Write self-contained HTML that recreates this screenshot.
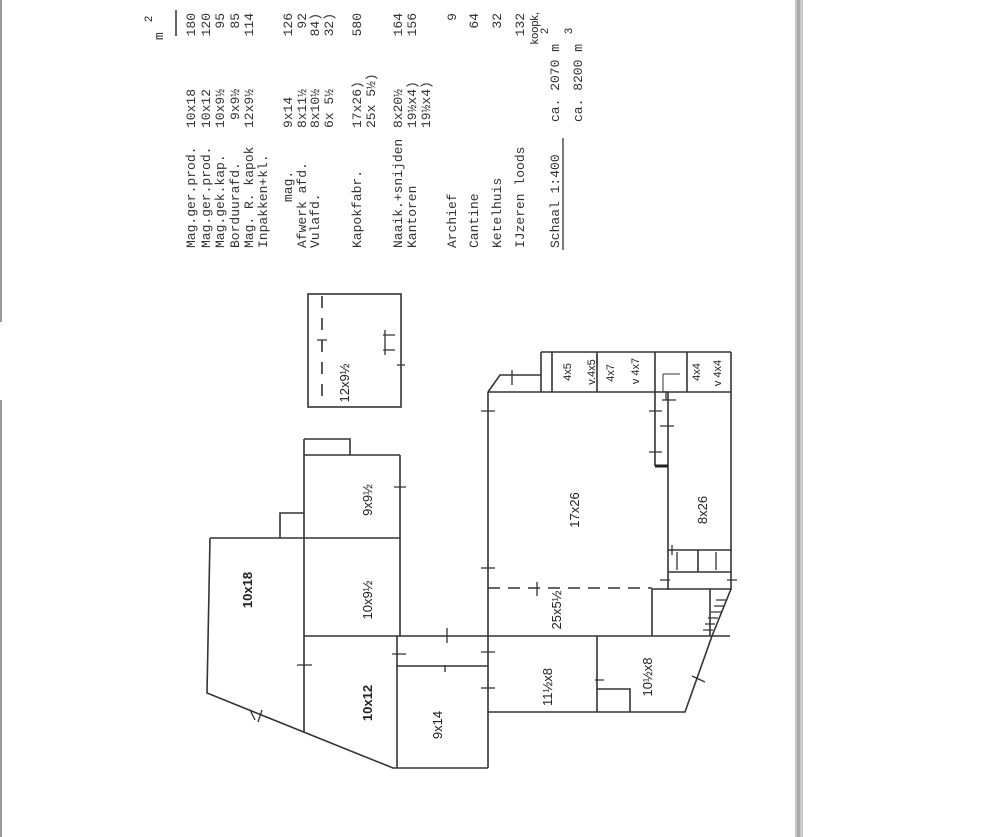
<!DOCTYPE html>
<html><head><meta charset="utf-8"><style>
html,body{margin:0;padding:0;background:#fff;}
svg{display:block;}
.t{font-family:"Liberation Mono",monospace;font-size:13px;fill:#333;}
.p{font-family:"Liberation Sans",sans-serif;font-size:13px;fill:#222;}
.s{font-family:"Liberation Sans",sans-serif;font-size:11px;fill:#222;}
</style></head><body>
<svg width="997" height="837" viewBox="0 0 997 837" xmlns="http://www.w3.org/2000/svg">
<rect width="997" height="837" fill="#fff"/>
<rect x="795" y="0" width="8" height="837" fill="#c8c8c8"/>
<rect x="797" y="0" width="3" height="837" fill="#aaa"/>
<line x1="1" y1="0" x2="1" y2="322" stroke="#999" stroke-width="2"/>
<line x1="1" y1="400" x2="1" y2="837" stroke="#999" stroke-width="2"/>

<text class="t" transform="translate(163,40) rotate(-90)">m</text>
<text class="s" transform="translate(152,22) rotate(-90)">2</text>
<line x1="176" y1="10" x2="176" y2="36" stroke="#333" stroke-width="1.5"/>

<g class="t">
<text transform="translate(195,248) rotate(-90)">Mag.ger.prod.</text>
<text transform="translate(195,128) rotate(-90)">10x18</text>
<text transform="translate(195,13) rotate(-90)" text-anchor="end">180</text>

<text transform="translate(210,248) rotate(-90)">Mag.ger.prod.</text>
<text transform="translate(210,128) rotate(-90)">10x12</text>
<text transform="translate(210,13) rotate(-90)" text-anchor="end">120</text>

<text transform="translate(224,248) rotate(-90)">Mag.gek.kap.</text>
<text transform="translate(224,128) rotate(-90)">10x9½</text>
<text transform="translate(224,13) rotate(-90)" text-anchor="end">95</text>

<text transform="translate(239,248) rotate(-90)">Borduurafd.</text>
<text transform="translate(239,120) rotate(-90)">9x9½</text>
<text transform="translate(239,13) rotate(-90)" text-anchor="end">85</text>

<text transform="translate(253,248) rotate(-90)">Mag. R. kapok</text>
<text transform="translate(253,128) rotate(-90)">12x9½</text>
<text transform="translate(253,13) rotate(-90)" text-anchor="end">114</text>

<text transform="translate(267,248) rotate(-90)">Inpakken+kl.</text>

<text transform="translate(292,202) rotate(-90)">mag.</text>
<text transform="translate(292,128) rotate(-90)">9x14</text>
<text transform="translate(292,13) rotate(-90)" text-anchor="end">126</text>

<text transform="translate(306,248) rotate(-90)">Afwerk afd.</text>
<text transform="translate(306,128) rotate(-90)">8x11½</text>
<text transform="translate(306,13) rotate(-90)" text-anchor="end">92</text>

<text transform="translate(319,248) rotate(-90)">Vulafd.</text>
<text transform="translate(319,128) rotate(-90)">8x10½</text>
<text transform="translate(319,13) rotate(-90)" text-anchor="end">84)</text>

<text transform="translate(333,128) rotate(-90)">6x 5½</text>
<text transform="translate(333,13) rotate(-90)" text-anchor="end">32)</text>

<text transform="translate(361,248) rotate(-90)">Kapokfabr.</text>
<text transform="translate(361,128) rotate(-90)">17x26)</text>
<text transform="translate(361,13) rotate(-90)" text-anchor="end">580</text>
<text transform="translate(375,128) rotate(-90)">25x 5½)</text>

<text transform="translate(402,248) rotate(-90)">Naaik.+snijden</text>
<text transform="translate(402,128) rotate(-90)">8x20½</text>
<text transform="translate(402,13) rotate(-90)" text-anchor="end">164</text>

<text transform="translate(416,248) rotate(-90)">Kantoren</text>
<text transform="translate(416,128) rotate(-90)">19½x4)</text>
<text transform="translate(416,13) rotate(-90)" text-anchor="end">156</text>
<text transform="translate(430,128) rotate(-90)">19½x4)</text>

<text transform="translate(456,248) rotate(-90)">Archief</text>
<text transform="translate(456,13) rotate(-90)" text-anchor="end">9</text>

<text transform="translate(478,248) rotate(-90)">Cantine</text>
<text transform="translate(478,13) rotate(-90)" text-anchor="end">64</text>

<text transform="translate(501,248) rotate(-90)">Ketelhuis</text>
<text transform="translate(501,13) rotate(-90)" text-anchor="end">32</text>

<text transform="translate(524,248) rotate(-90)">IJzeren loods</text>
<text transform="translate(524,13) rotate(-90)" text-anchor="end">132</text>

<text transform="translate(559,248) rotate(-90)">Schaal 1:400</text>
<text transform="translate(559,122) rotate(-90)">ca. 2070 m</text>
<text transform="translate(582,122) rotate(-90)">ca. 8200 m</text>
</g>
<text class="s" transform="translate(548,34) rotate(-90)">2</text>
<text class="s" transform="translate(572,34) rotate(-90)">3</text>
<text class="s" transform="translate(538,12) rotate(-90)" text-anchor="end">koopk,</text>
<line x1="563" y1="250" x2="563" y2="138" stroke="#333" stroke-width="1.3"/>

<g stroke="#333" stroke-width="1.6" fill="none">
<path d="M210,538 L207,693 L393,768 L488,768"/>
<path d="M397,666 L488,666"/>
<path d="M397,636 L397,768"/>
<path d="M400,455 L400,636"/>
<path d="M304,439 L304,732"/>
<path d="M304,439 L350,439 L350,455"/>
<path d="M304,455 L400,455"/>
<path d="M210,538 L400,538"/>
<path d="M280,538 L280,513 L304,513"/>
<path d="M304,636 L730,636"/>
<path d="M488,392 L488,768"/>
<path d="M488,712 L685,712 L712,636 L731,589"/>
<path d="M597,636 L597,712"/>
<path d="M597,689 L630,689 L630,712"/>
<path d="M652,589 L652,636"/>
<path d="M652,589 L731,589"/>
<path d="M710,589 L710,636"/>
<path d="M488,392 L731,392"/>
<path d="M731,352 L731,590"/>
<path d="M668,392 L668,590"/>
<path d="M655,352 L655,466"/>
<path d="M668,550 L731,550 M668,572 L731,572 M698,550 L698,572"/>
<path d="M541,352 L731,352"/>
<path d="M541,352 L541,392 M552,352 L552,392 M597,352 L597,392 M687,352 L687,392"/>
<path d="M488,392 L500,375 L541,375"/>
<rect x="308" y="294" width="93" height="113"/>
<path d="M488,588 L652,588" stroke-dasharray="12,8"/>
<path d="M322,296 L322,405" stroke-dasharray="12,10"/>
<path d="M663,374 L663,392 L680,392 M663,374 L680,374" stroke-width="1"/>
</g>
<path d="M655,466 L668,466" stroke="#222" stroke-width="3"/>
<g stroke="#333" stroke-width="1.3" fill="none">
<path d="M394,487 L406,487 M392,654 L406,654 M297,665 L312,665 M447,628 L447,643 M445,665 L445,672 M481,568 L495,568 M481,652 L495,652 M481,688 L495,688"/>
<path d="M481,411 L495,411 M512,370 L512,385 M649,411 L662,411 M649,452 L662,452 M660,426 L674,426 M666,391 L666,400 M662,400 L676,400"/>
<path d="M677,552 L677,570 M716,552 L716,570 M727,580 L737,580 M660,580 L670,580 M672,545 L672,555 M537,582 L537,596"/>
<path d="M595,680 L604,680 M692,676 L705,682 M597,355 L597,366"/>
<path d="M716,600 L726,600 M714,606 L724,606 M711,612 L721,612 M708,618 L718,618 M705,624 L715,624 M703,630 L713,630"/>
<path d="M317,340 L327,340 M383,335 L395,335 M383,350 L395,350 M385,330 L385,355 M397,365 L405,365"/>
<path d="M250,710 L255,720 M262,710 L258,722"/>
</g>
<g class="p" text-anchor="middle">
<text transform="translate(252,590) rotate(-90)" font-weight="bold">10x18</text>
<text transform="translate(372,500) rotate(-90)">9x9½</text>
<text transform="translate(372,600) rotate(-90)">10x9½</text>
<text transform="translate(372,703) rotate(-90)" font-weight="bold">10x12</text>
<text transform="translate(442,725) rotate(-90)">9x14</text>
<text transform="translate(349,383) rotate(-90)">12x9½</text>
<text transform="translate(579,510) rotate(-90)">17x26</text>
<text transform="translate(561,610) rotate(-90)">25x5½</text>
<text transform="translate(552,687) rotate(-90)">11½x8</text>
<text transform="translate(652,677) rotate(-90)">10½x8</text>
<text transform="translate(707,510) rotate(-90)">8x26</text>
</g>
<g class="s" text-anchor="middle">
<text transform="translate(571,372) rotate(-90)">4x5</text>
<text transform="translate(595,372) rotate(-90)">v.4x5</text>
<text transform="translate(614,373) rotate(-90)">4x7</text>
<text transform="translate(639,371) rotate(-90)">v 4x7</text>
<text transform="translate(700,372) rotate(-90)">4x4</text>
<text transform="translate(721,373) rotate(-90)">v 4x4</text>
</g>
</svg>
</body></html>
